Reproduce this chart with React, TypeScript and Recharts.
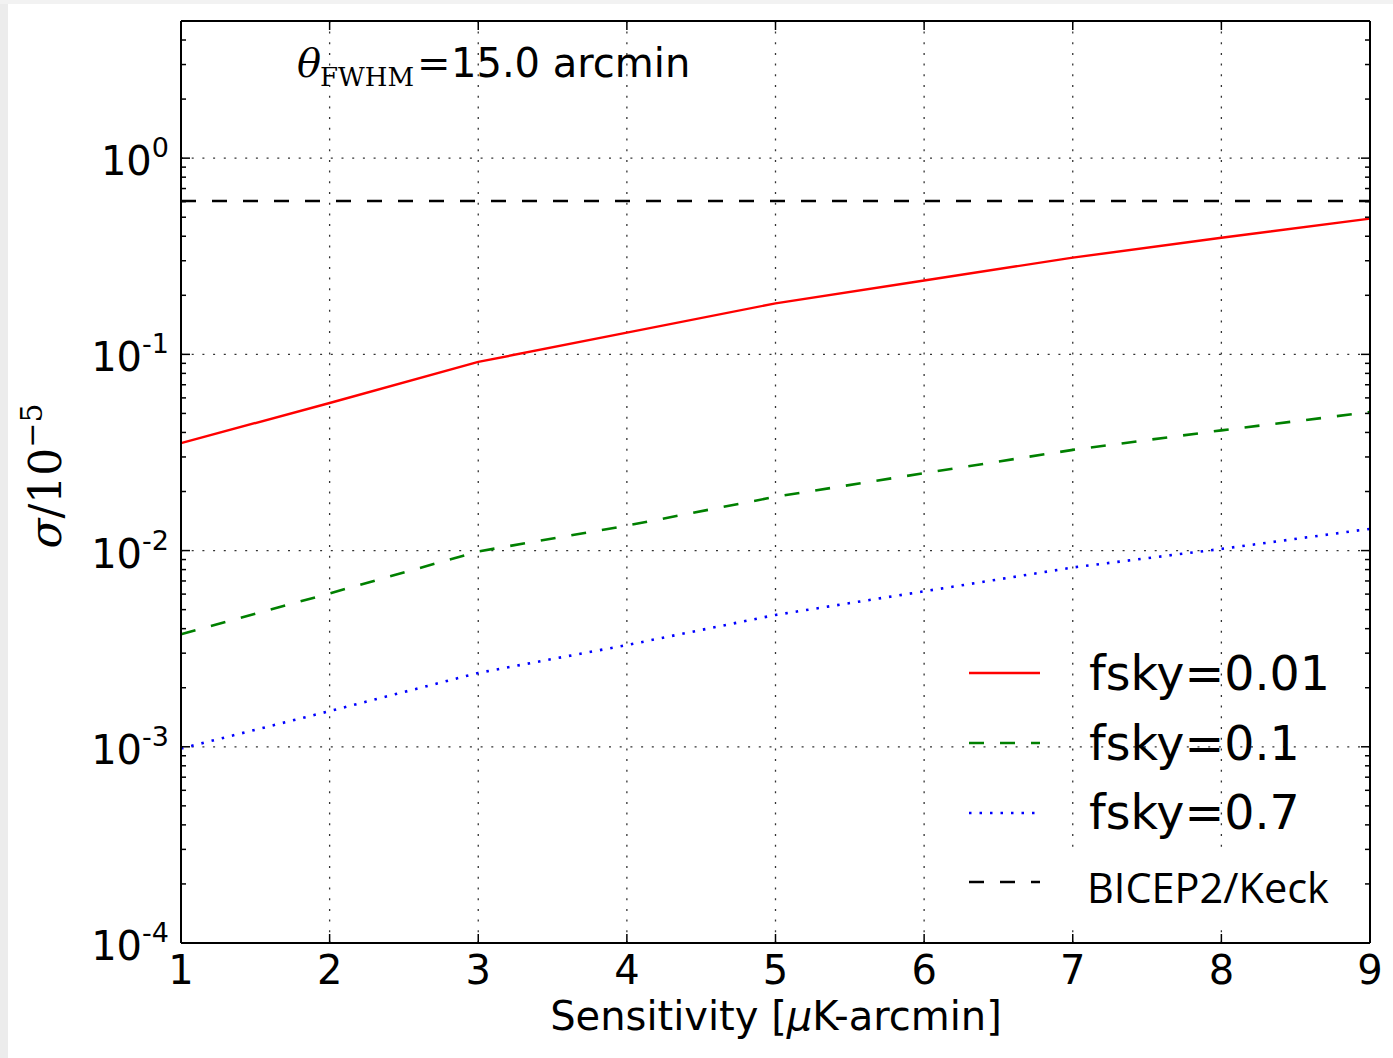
import { LineChart, Line, XAxis, YAxis, ReferenceLine } from 'recharts'

// sensitivity in uK-arcmin
const SENSITIVITY = [1, 2, 3, 4, 5, 6, 7, 8, 9]

// sigma / 1e-5 for each sky fraction
const FSKY_001 = [0.0353, 0.0565, 0.0915, 0.129, 0.182, 0.238, 0.311, 0.393, 0.492]
const FSKY_01 = [0.00375, 0.00605, 0.0099, 0.0134, 0.0188, 0.0248, 0.0326, 0.041, 0.0508]
const FSKY_07 = [0.00098, 0.00152, 0.00238, 0.0033, 0.0047, 0.0062, 0.0082, 0.0102, 0.0129]

const BICEP_LIMIT = 0.605

const Y_DOMAIN: [number, number] = [1e-4, 5]
const MAJOR_Y = [1e-4, 1e-3, 1e-2, 1e-1, 1]
const MAJOR_EXP = ['-4', '-3', '-2', '-1', '0']
const MINOR_MULT = [2, 3, 4, 5, 6, 7, 8, 9]
const MINOR_Y = [
  ...MAJOR_Y.slice(0, 4).flatMap((d) => MINOR_MULT.map((m) => m * d)),
  2, 3, 4,
]
const ALL_Y = [...MAJOR_Y, ...MINOR_Y]
const GRID_X = [2, 3, 4, 5, 6, 7, 8]
const GRID_Y = [1e-3, 1e-2, 1e-1, 1]

const data = SENSITIVITY.map((s, i) => ({
  s,
  f001: FSKY_001[i],
  f01: FSKY_01[i],
  f07: FSKY_07[i],
}))

const W = 1393
const H = 1058
const SANS = "'DejaVu Sans', 'Bitstream Vera Sans', sans-serif"
const SERIF = "'DejaVu Serif', 'Liberation Serif', serif"

const GRID_DASH = '2 8.7'
const DASH = '15 16'
const DOTS = '2.5 8'

const LeftTick = (props: any) => {
  const { x, y, payload } = props
  const idx = MAJOR_Y.indexOf(payload.value)
  const major = idx >= 0
  return (
    <g>
      <line x1={x} y1={y} x2={x + (major ? 9 : 5)} y2={y} stroke="#000" strokeWidth={1.5} />
      {major && (
        <text x={x - 12} y={y + 17} textAnchor="end" fontFamily={SANS} fontSize={40} fill="#000">
          10
          <tspan dy={-18} fontSize={27}>
            {MAJOR_EXP[idx]}
          </tspan>
        </text>
      )}
    </g>
  )
}

const RightTick = (props: any) => {
  const { x, y, payload } = props
  const major = MAJOR_Y.indexOf(payload.value) >= 0
  return <line x1={x} y1={y} x2={x - (major ? 9 : 5)} y2={y} stroke="#000" strokeWidth={1.5} />
}

const BottomTick = (props: any) => {
  const { x, y, payload } = props
  return (
    <g>
      <line x1={x} y1={y} x2={x} y2={y - 9} stroke="#000" strokeWidth={1.5} />
      <text x={x} y={y + 41} textAnchor="middle" fontFamily={SANS} fontSize={40} fill="#000">
        {payload.value}
      </text>
    </g>
  )
}

const TopTick = (props: any) => {
  const { x, y } = props
  return <line x1={x} y1={y} x2={x} y2={y + 9} stroke="#000" strokeWidth={1.5} />
}

const legendItems = [
  { label: 'fsky=0.01', color: '#ff0000', dash: undefined, y: 673, textY: 690 },
  { label: 'fsky=0.1', color: '#008000', dash: DASH, y: 743, textY: 760 },
  { label: 'fsky=0.7', color: '#0000ff', dash: DOTS, y: 813, textY: 829 },
]

function Overlay() {
  return (
    <svg
      width={W}
      height={H}
      style={{ position: 'absolute', left: 0, top: 0, pointerEvents: 'none' }}
    >
      {/* beam size annotation */}
      <text y={77} fill="#000">
        <tspan x={297} fontFamily={SERIF} fontStyle="italic" fontSize={40}>
          θ
        </tspan>
        <tspan x={320} y={86} fontFamily={SERIF} fontSize={26}>
          FWHM
        </tspan>
        <tspan x={417} y={77} fontFamily={SERIF} fontSize={40}>
          =
        </tspan>
        <tspan x={451} fontFamily={SANS} fontSize={40}>
          15.0 arcmin
        </tspan>
      </text>

      {/* y axis label */}
      <g transform="translate(61 476) rotate(-90)">
        <text x={0} y={0} textAnchor="middle" fontFamily={SERIF} fontSize={44} fill="#000">
          <tspan fontStyle="italic">σ</tspan>/10
          <tspan dy={-19} fontSize={30}>
            −5
          </tspan>
        </text>
      </g>

      {/* x axis label */}
      <text x={776} y={1030} textAnchor="middle" fontFamily={SANS} fontSize={40} fill="#000">
        Sensitivity [<tspan fontStyle="italic">μ</tspan>K-arcmin]
      </text>

      {/* legend */}
      {legendItems.map((it) => (
        <g key={it.label}>
          <line
            x1={969}
            x2={1040}
            y1={it.y}
            y2={it.y}
            stroke={it.color}
            strokeWidth={2.6}
            strokeDasharray={it.dash}
          />
          <text x={1089} y={it.textY} fontFamily={SANS} fontSize={47.5} fill="#000">
            {it.label}
          </text>
        </g>
      ))}
      <line x1={969} x2={1040} y1={882} y2={882} stroke="#000" strokeWidth={2.6} strokeDasharray={DASH} />
      <rect x={1058} y={848} width={290} height={82} fill="#fff" />
      <text x={1087} y={903} fontFamily="'Open Sans', 'Noto Sans', sans-serif" fontSize={41.5} fill="#000">
        BICEP2/Keck
      </text>
    </svg>
  )
}

export default function App() {
  return (
    <div style={{ position: 'absolute', left: 0, top: 0, width: W, height: H, background: '#fff' }}>
      <div style={{ position: 'absolute', left: 0, top: 0, width: 8, height: H, background: '#ececec' }} />
      <div style={{ position: 'absolute', left: 0, top: 0, width: W, height: 4, background: '#f2f2f2' }} />
      <LineChart
        width={W}
        height={H}
        data={data}
        margin={{ top: 20, right: 22, bottom: 0, left: 0 }}
        style={{ position: 'absolute', left: 0, top: 0 }}
      >
        <XAxis
          xAxisId="bottom"
          dataKey="s"
          type="number"
          domain={[1, 9]}
          ticks={SENSITIVITY}
          interval={0}
          height={115}
          tickSize={0}
          tickMargin={0}
          tickLine={false}
          tick={<BottomTick />}
          axisLine={{ stroke: '#000', strokeWidth: 2 }}
        />
        <XAxis
          xAxisId="top"
          orientation="top"
          dataKey="s"
          type="number"
          domain={[1, 9]}
          ticks={SENSITIVITY}
          interval={0}
          height={1}
          tickSize={0}
          tickMargin={0}
          tickLine={false}
          tick={<TopTick />}
          axisLine={{ stroke: '#000', strokeWidth: 2 }}
        />
        <YAxis
          yAxisId="left"
          scale="log"
          domain={Y_DOMAIN}
          allowDataOverflow
          ticks={ALL_Y}
          interval={0}
          width={181}
          tickSize={0}
          tickMargin={0}
          tickLine={false}
          tick={<LeftTick />}
          axisLine={{ stroke: '#000', strokeWidth: 2 }}
        />
        <YAxis
          yAxisId="right"
          orientation="right"
          scale="log"
          domain={Y_DOMAIN}
          allowDataOverflow
          ticks={ALL_Y}
          interval={0}
          width={1}
          tickSize={0}
          tickMargin={0}
          tickLine={false}
          tick={<RightTick />}
          axisLine={{ stroke: '#000', strokeWidth: 2 }}
        />

        {GRID_X.map((gx) => (
          <ReferenceLine
            key={`gx-${gx}`}
            x={gx}
            xAxisId="bottom"
            yAxisId="left"
            stroke="#000"
            strokeOpacity={0.8}
            strokeWidth={1.3}
            strokeDasharray={GRID_DASH}
          />
        ))}
        {GRID_Y.map((gy) => (
          <ReferenceLine
            key={`gy-${gy}`}
            y={gy}
            xAxisId="bottom"
            yAxisId="left"
            stroke="#000"
            strokeOpacity={0.8}
            strokeWidth={1.3}
            strokeDasharray={GRID_DASH}
          />
        ))}
        <ReferenceLine
          y={BICEP_LIMIT}
          xAxisId="bottom"
          yAxisId="left"
          stroke="#000"
          strokeWidth={2.6}
          strokeDasharray={DASH}
        />

        <Line
          xAxisId="bottom"
          yAxisId="left"
          dataKey="f001"
          type="linear"
          stroke="#ff0000"
          strokeWidth={2.4}
          dot={false}
          activeDot={false}
          isAnimationActive={false}
        />
        <Line
          xAxisId="bottom"
          yAxisId="left"
          dataKey="f01"
          type="linear"
          stroke="#008000"
          strokeWidth={2.6}
          strokeDasharray={DASH}
          dot={false}
          activeDot={false}
          isAnimationActive={false}
        />
        <Line
          xAxisId="bottom"
          yAxisId="left"
          dataKey="f07"
          type="linear"
          stroke="#0000ff"
          strokeWidth={2.6}
          strokeDasharray={DOTS}
          dot={false}
          activeDot={false}
          isAnimationActive={false}
        />
      </LineChart>
      <Overlay />
    </div>
  )
}
